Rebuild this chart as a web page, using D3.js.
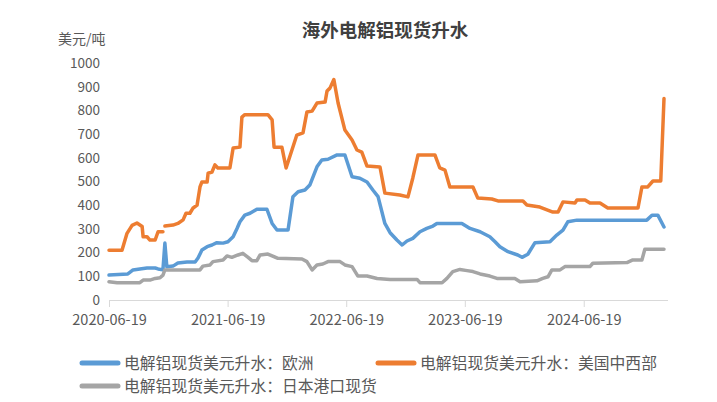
<!DOCTYPE html>
<html lang="zh">
<head>
  <meta charset="UTF-8">
  <title>海外电解铝现货升水</title>
  <style>
    body { margin: 0; background: #fff; }
    text { font-family: "Noto Sans CJK SC", "Noto Sans", sans-serif; }
  </style>
</head>
<body>
  <div id="chart"></div>

  <script src="https://d3js.org/d3.v7.min.js"></script>
  <script>
    // weekly premiums, USD/t
    const europe = [
      ["2020-06-19",105],["2020-08-16",110],["2020-09-01",127],["2020-09-22",131],["2020-10-14",135],
      ["2020-11-08",135],["2020-11-17",131],["2020-12-02",127],["2020-12-08",240],["2020-12-14",140],
      ["2021-01-02",143],["2021-01-17",156],["2021-02-14",160],["2021-03-11",160],["2021-03-20",177],
      ["2021-04-01",211],["2021-04-17",225],["2021-05-02",232],["2021-05-17",242],["2021-06-05",240],
      ["2021-06-20",246],["2021-07-06",267],["2021-07-18",302],["2021-07-27",330],["2021-08-11",358],
      ["2021-08-27",366],["2021-09-17",383],["2021-10-18",383],["2021-11-03",323],["2021-11-18",295],
      ["2021-12-22",295],["2022-01-06",436],["2022-01-22",457],["2022-02-12",464],["2022-02-27",485],
      ["2022-03-21",562],["2022-04-05",591],["2022-04-24",594],["2022-05-22",612],["2022-06-15",612],
      ["2022-07-07",520],["2022-07-31",514],["2022-08-22",498],["2022-09-09",464],["2022-09-25",436],
      ["2022-10-16",323],["2022-11-01",284],["2022-11-22",253],["2022-12-08",232],["2022-12-23",249],
      ["2023-01-10",260],["2023-02-01",288],["2023-02-22",302],["2023-03-13",312],["2023-03-25",323],
      ["2023-06-10",323],["2023-07-05",302],["2023-08-05",288],["2023-09-04",267],["2023-09-20",246],
      ["2023-10-05",225],["2023-10-30",204],["2023-11-29",190],["2023-12-12",180],["2023-12-30",193],
      ["2024-01-21",242],["2024-03-07",246],["2024-03-28",274],["2024-04-16",295],["2024-05-01",330],
      ["2024-05-29",337],["2024-12-30",337],["2025-01-15",358],["2025-02-02",358],["2025-02-21",308]
    ];

    const usMidwest = [
      ["2020-06-19",210],["2020-07-29",210],["2020-08-13",280],["2020-08-29",315],["2020-09-13",325],
      ["2020-09-29",310],["2020-10-02",267],["2020-10-14",267],["2020-10-23",253],["2020-11-08",253],
      ["2020-11-17",288],["2020-12-02",288],["2020-12-05",null],["2020-12-08",312],["2021-01-02",316],
      ["2021-01-17",323],["2021-02-02",338],["2021-02-11",366],["2021-02-23",366],["2021-03-04",387],
      ["2021-03-17",400],["2021-03-26",477],["2021-04-01",498],["2021-04-17",498],["2021-04-20",535],
      ["2021-05-02",540],["2021-05-11",570],["2021-05-20",557],["2021-06-26",557],["2021-07-06",641],
      ["2021-07-27",645],["2021-08-02",772],["2021-08-11",782],["2021-10-21",782],["2021-11-03",760],
      ["2021-11-09",645],["2021-12-03",645],["2021-12-16",557],["2022-01-03",633],["2022-01-18",696],
      ["2022-02-06",705],["2022-02-18",793],["2022-03-06",797],["2022-03-21",831],["2022-04-15",835],
      ["2022-04-21",882],["2022-04-30",894],["2022-05-12",930],["2022-05-25",831],["2022-06-15",717],
      ["2022-07-07",675],["2022-07-22",633],["2022-08-06",624],["2022-08-22",565],["2022-10-01",561],
      ["2022-10-16",451],["2022-12-01",443],["2022-12-26",435],["2023-01-10",515],["2023-01-26",612],
      ["2023-03-19",612],["2023-04-03",557],["2023-04-19",548],["2023-05-04",477],["2023-07-14",477],
      ["2023-07-29",430],["2023-09-10",426],["2023-09-29",418],["2023-12-15",418],["2023-12-27",401],
      ["2024-02-05",392],["2024-03-16",371],["2024-04-01",371],["2024-04-16",414],["2024-05-23",409],
      ["2024-05-29",422],["2024-06-23",422],["2024-07-08",409],["2024-08-08",409],["2024-09-01",388],
      ["2024-12-03",388],["2024-12-15",477],["2025-01-02",477],["2025-01-18",502],["2025-02-11",502],
      ["2025-02-21",850]
    ];

    const japan = [
      ["2020-06-19",77],["2020-07-14",73],["2020-09-22",73],["2020-10-02",84],["2020-10-23",84],
      ["2020-11-08",91],["2020-11-23",94],["2020-12-02",105],["2020-12-08",127],["2021-03-26",127],
      ["2021-04-04",143],["2021-04-26",148],["2021-05-05",162],["2021-06-05",169],["2021-06-17",186],
      ["2021-07-02",180],["2021-07-21",190],["2021-08-05",197],["2021-08-21",180],["2021-09-02",166],
      ["2021-09-17",166],["2021-09-27",190],["2021-10-21",194],["2021-11-21",176],["2022-02-03",173],
      ["2022-02-18",162],["2022-03-06",127],["2022-03-21",148],["2022-04-08",152],["2022-04-24",162],
      ["2022-05-31",162],["2022-06-15",148],["2022-07-07",141],["2022-07-25",101],["2022-08-22",101],
      ["2022-09-22",91],["2022-11-01",87],["2023-01-23",87],["2023-02-01",73],["2023-04-10",73],
      ["2023-04-25",91],["2023-05-13",120],["2023-06-04",129],["2023-06-26",124],["2023-07-14",120],
      ["2023-08-05",110],["2023-09-04",101],["2023-09-26",91],["2023-11-20",91],["2023-12-06",77],
      ["2024-01-27",81],["2024-02-14",91],["2024-03-01",98],["2024-03-13",127],["2024-04-07",127],
      ["2024-04-22",141],["2024-07-08",141],["2024-07-17",155],["2024-10-30",158],["2024-11-17",169],
      ["2024-12-15",169],["2024-12-24",214],["2025-02-21",214]
    ];

    const seriesNames = ["电解铝现货美元升水：欧洲", "电解铝现货美元升水：美国中西部", "电解铝现货美元升水：日本港口现货"];
    const seriesColors = ["#5B9BD5", "#ED7D31", "#A5A5A5"];
    const xTickLabels = ["2020-06-19", "2021-06-19", "2022-06-19", "2023-06-19", "2024-06-19"];
    const yTicks = [0, 100, 200, 300, 400, 500, 600, 700, 800, 900, 1000];

    const width = 717, height = 402;
    const parse = d3.timeParse("%Y-%m-%d");

    const svg = d3.select("#chart").append("svg")
      .attr("width", width)
      .attr("height", height);

    const x = d3.scaleTime()
      .domain([parse("2020-06-19"), parse("2025-02-21")])
      .range([109, 664]);

    const y = d3.scaleLinear()
      .domain([0, 1000])
      .range([300, 63]);

    // title + unit
    svg.append("text")
      .attr("x", 385).attr("y", 37)
      .attr("text-anchor", "middle")
      .style("font-size", "18.5px")
      .style("font-weight", "bold")
      .style("fill", "#404040")
      .text("海外电解铝现货升水");

    svg.append("text")
      .attr("x", 58).attr("y", 44)
      .style("font-size", "14px")
      .style("fill", "#595959")
      .text("美元/吨");

    // y axis labels only
    const yAxis = svg.append("g")
      .attr("transform", "translate(100,0)")
      .call(d3.axisLeft(y).tickValues(yTicks).tickFormat(d3.format("d")).tickSize(0).tickPadding(0));
    yAxis.select(".domain").remove();
    yAxis.selectAll("text")
      .style("font-size", "13.5px")
      .style("fill", "#595959");

    // x axis
    const xAxis = svg.append("g")
      .attr("transform", "translate(0,300)")
      .call(d3.axisBottom(x)
        .tickValues(xTickLabels.map(parse))
        .tickFormat(d3.timeFormat("%Y-%m-%d"))
        .tickSize(7)
        .tickPadding(8)
        .tickSizeOuter(0));
    xAxis.select(".domain")
      .attr("d", "M109,0.5H668")
      .attr("stroke", "#d9d9d9");
    xAxis.selectAll(".tick line").attr("stroke", "#d9d9d9");
    xAxis.selectAll("text")
      .style("font-size", "14.5px")
      .style("fill", "#595959");

    // lines
    const line = d3.line()
      .defined(d => d[1] !== null)
      .x(d => x(parse(d[0])))
      .y(d => y(d[1]));

    const allSeries = [europe, usMidwest, japan];

    svg.append("g")
      .selectAll("path")
      .data(allSeries)
      .enter()
      .append("path")
      .attr("d", line)
      .attr("fill", "none")
      .attr("stroke", (d, i) => seriesColors[i])
      .attr("stroke-width", 3.5)
      .attr("stroke-linejoin", "round")
      .attr("stroke-linecap", "round");

    // legend
    const legendPos = [[82, 363], [378, 363], [82, 386]];
    const legend = svg.append("g")
      .selectAll("g")
      .data(seriesNames)
      .enter()
      .append("g")
      .attr("transform", (d, i) => `translate(${legendPos[i][0]},${legendPos[i][1]})`);

    legend.append("line")
      .attr("x1", 0).attr("x2", 36)
      .attr("y1", 0).attr("y2", 0)
      .attr("stroke", (d, i) => seriesColors[i])
      .attr("stroke-width", 5)
      .attr("stroke-linecap", "round");

    legend.append("text")
      .attr("x", 42)
      .attr("dy", "0.35em")
      .style("font-size", "15.8px")
      .style("fill", "#595959")
      .text(d => d);
  </script>
</body>
</html>
